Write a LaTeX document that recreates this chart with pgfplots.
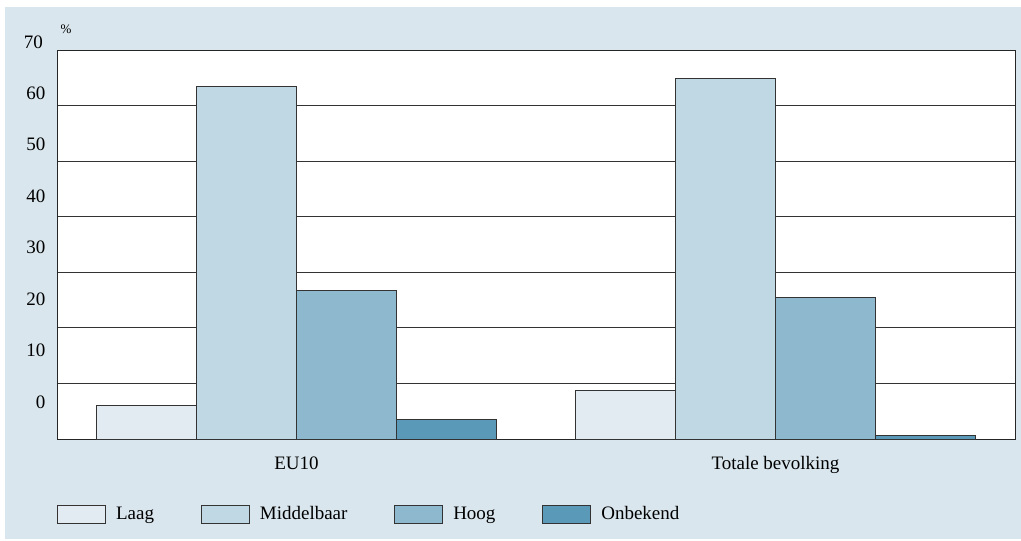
\documentclass[border=0pt]{standalone}
\usepackage{pgfplots}
\pgfplotsset{compat=1.18}
\usepackage{fontspec}
\setmainfont{Liberation Serif}
\definecolor{bg}{HTML}{D9E6ED}
\definecolor{cLaag}{HTML}{E1EBF1}
\definecolor{cMid}{HTML}{C0D8E3}
\definecolor{cHoog}{HTML}{8DB8CD}
\definecolor{cOnb}{HTML}{5A9AB8}
\begin{document}
\begin{tikzpicture}
\fill[white] (0,0) rectangle (1021pt,541pt);
\fill[bg] (5pt,2pt) rectangle (1021pt,534pt);
\node[font=\fontsize{13}{15}\selectfont, inner sep=0pt] at (66pt,512pt) {\%};
\begin{axis}[
  at={(57pt,102pt)}, anchor=south west,
  scale only axis, width=958pt, height=389pt,
  xmin=-0.5, xmax=1.5, ymin=0, ymax=70,
  xtick={0,1}, xticklabels={EU10, Totale bevolking},
  ytick={10,20,...,60}, yticklabels={},
  ymajorgrids, grid style={black!80, line width=0.9pt},
  major tick length=0pt,
  axis line style={black!85, line width=0.9pt},
  axis background/.style={fill=white},
  ybar=0pt, bar width=100pt,
  extra y ticks={6.65,15.91,25.17,34.43,43.69,52.95,62.21},
  extra y tick labels={0,10,20,30,40,50,60},
  extra y tick style={grid=none, major tick length=0pt},
  tick label style={font=\fontsize{19}{22}\selectfont},
  /pgf/number format/assume math mode=true,
  yticklabel style={xshift=-8pt},
  xticklabel style={yshift=-14pt},
  every axis plot/.append style={draw=black!80, line width=0.8pt},
  legend style={draw=none, fill=none, at={(axis description cs:-0.003,-0.193)}, anchor=west,
    font=\fontsize{19}{22}\selectfont, legend columns=4,
    /tikz/every odd column/.append style={column sep=8pt},
    /tikz/every even column/.append style={column sep=45pt}},
  legend cell align=left,
  legend image code/.code={\draw[#1] (0pt,-9pt) rectangle (48pt,9pt);},
  clip=false,
]
\addplot[fill=cLaag] coordinates {(0,6.0) (1,8.8)};
\addplot[fill=cMid] coordinates {(0,63.4) (1,64.9)};
\addplot[fill=cHoog] coordinates {(0,26.8) (1,25.5)};
\addplot[fill=cOnb] coordinates {(0,3.5) (1,0.6)};
\legend{Laag, Middelbaar, Hoog, Onbekend}
\node[anchor=east, inner sep=0pt, font=\fontsize{19}{22}\selectfont] at (rel axis cs:0,1) [xshift=-14pt, yshift=8pt] {70};
\end{axis}
\end{tikzpicture}
\end{document}
